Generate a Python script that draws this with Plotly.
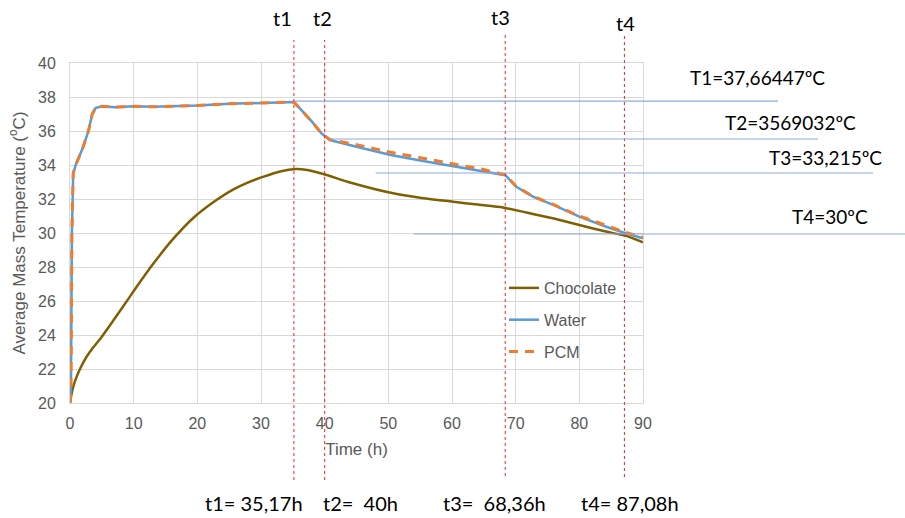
import plotly.graph_objects as go

# ---------------- data ----------------
water_t = [0, 0.15, 0.3, 0.5, 0.9, 2.0, 2.9, 3.5, 4.0, 5.0, 7.0, 10.0, 13.0, 16.0, 20.0, 25.0, 30.0, 35.17,
           36.1, 38.0, 39.5, 40.8, 45.0, 50.2, 55.0, 60.2, 65.0, 68.36, 70.1, 72.7, 75.9, 80.0, 84.0, 87.6, 90.0]
water_T = [20.0, 21.0, 30.0, 33.5, 34.0, 35.0, 36.0, 37.0, 37.35, 37.45, 37.4, 37.45, 37.42, 37.45, 37.5, 37.6, 37.65, 37.7,
           37.33, 36.55, 35.86, 35.47, 35.07, 34.6, 34.27, 33.94, 33.62, 33.4, 32.72, 32.14, 31.65, 30.96, 30.4, 29.94, 29.69]
pcm_T = [20.0, 21.0, 30.0, 33.5, 34.0, 35.0, 36.0, 37.0, 37.35, 37.45, 37.4, 37.45, 37.42, 37.45, 37.5, 37.6, 37.65, 37.7,
         37.33, 36.55, 35.86, 35.5, 35.2, 34.76, 34.43, 34.08, 33.73, 33.42, 32.74, 32.16, 31.68, 31.0, 30.45, 30.0, 29.75]
choc_t = [0, 0.2, 0.5, 1.05, 1.7, 2.6, 3.6, 4.7, 6.8, 8.9, 10.5, 13.1, 16.2, 19.4, 23.0, 25.6, 28.0, 30.3, 33.0, 35.5, 37.0,
          39.8, 44.0, 50.2, 55.0, 60.2, 64.0, 68.0, 72.7, 76.0, 80.0, 84.0, 87.6, 90.0]
choc_T = [20.0, 20.45, 20.95, 21.55, 22.1, 22.72, 23.25, 23.75, 24.85, 25.98, 26.85, 28.2, 29.65, 30.9, 31.94, 32.55, 32.98, 33.3, 33.62, 33.76, 33.72,
          33.47, 32.97, 32.38, 32.08, 31.84, 31.67, 31.5, 31.12, 30.85, 30.47, 30.1, 29.8, 29.45]

t_marks = [35.17, 40.0, 68.36, 87.08]
t_names = ["t1", "t2", "t3", "t4"]
t_bottom = ["t1= 35,17h", "t2=  40h", "t3=  68,36h", "t4= 87,08h"]
T_levels = [37.76, 35.53, 33.53, 29.94]
T_start = [35.17, 40.8, 48.0, 54.0]
T_text = ["T1=37,66447ºC", "T2=3569032ºC", "T3=33,215ºC", "T4=30ºC"]

# ---------------- geometry helpers ----------------
W, H = 905, 518
L, R, T, B = 70, 643, 63, 403
XMAX, YMIN, YMAX = 90, 20, 40


def px_x(px):
    return (px - L) / (R - L)


def px_y(py):
    return (B - py) / (B - T)


fig = go.Figure()
fig.add_trace(go.Scatter(x=choc_t, y=choc_T, mode="lines", name="Chocolate", legendgroup="a",
                         line=dict(color="#7F6000", width=2.5, shape="spline", smoothing=0.5)))
fig.add_trace(go.Scatter(x=water_t, y=water_T, mode="lines", name="Water", legendgroup="b",
                         line=dict(color="#5B9BD5", width=2.5)))
fig.add_trace(go.Scatter(x=water_t, y=pcm_T, mode="lines", name="PCM", legendgroup="c",
                         line=dict(color="#ED7D31", width=3, dash="9px,7px")))

shapes = []
annotations = []
font_lbl = dict(family="Lato", size=20, color="#000000")

top_px = [(282, 18), (322, 18), (500, 17), (625, 23)]
bot_px = [254, 360, 494, 630]
line_top = [40, 40, 33, 35]
line_bot = [480, 480, 476, 477]
for i, tm in enumerate(t_marks):
    shapes.append(dict(type="line", xref="paper", yref="paper",
                       x0=tm / XMAX, x1=tm / XMAX, y0=px_y(line_bot[i]), y1=px_y(line_top[i]),
                       line=dict(color="#FF2020", width=1, dash="3px,3px"), layer="above"))
    annotations.append(dict(xref="paper", yref="paper", x=px_x(top_px[i][0]), y=px_y(top_px[i][1]),
                            text=t_names[i], showarrow=False, font=font_lbl,
                            xanchor="center", yanchor="middle"))
    annotations.append(dict(xref="paper", yref="paper", x=px_x(bot_px[i]), y=px_y(503),
                            text=t_bottom[i], showarrow=False, font=dict(family="Lato", size=20, color="#000000"),
                            xanchor="center", yanchor="middle"))

T_end_px = [778, 818, 873, 905]
T_lbl_px = [(757, 78), (790, 122), (825, 157), (830, 217)]
for i, lv in enumerate(T_levels):
    shapes.append(dict(type="line", xref="paper", yref="paper",
                       x0=T_start[i] / XMAX, x1=px_x(T_end_px[i]),
                       y0=(lv - YMIN) / (YMAX - YMIN), y1=(lv - YMIN) / (YMAX - YMIN),
                       line=dict(color="#8FAADC", width=1.2), layer="above"))
    annotations.append(dict(xref="paper", yref="paper", x=px_x(T_lbl_px[i][0]), y=px_y(T_lbl_px[i][1]),
                            text=T_text[i], showarrow=False, font=dict(family="Lato", size=19, color="#000000"),
                            xanchor="center", yanchor="middle"))

grid = "#D9D9D9"
tick_font = dict(family="Liberation Sans", size=16, color="#595959")
fig.update_layout(
    width=W, height=H,
    margin=dict(l=L, r=W - R, t=T, b=H - B, pad=0),
    paper_bgcolor="white", plot_bgcolor="white",
    showlegend=True,
    legend=dict(x=px_x(504), y=px_y(271), xanchor="left", yanchor="top",
                bgcolor="rgba(0,0,0,0)", font=dict(family="Liberation Sans", size=16, color="#595959"),
                traceorder="grouped", tracegroupgap=8, itemwidth=30),
    xaxis=dict(range=[0, XMAX], dtick=10, tick0=0, showgrid=True, gridcolor=grid, gridwidth=1,
               showline=True, linecolor=grid, linewidth=1, mirror=True, zeroline=False,
               ticks="", tickfont=tick_font, ticklabelstandoff=6,
               title=dict(text="Time (h)", font=dict(family="Liberation Sans", size=17, color="#595959"), standoff=11)),
    yaxis=dict(range=[YMIN, YMAX], dtick=2, tick0=20, showgrid=True, gridcolor=grid, gridwidth=1,
               showline=True, linecolor=grid, linewidth=1, mirror=True, zeroline=False,
               ticks="", tickfont=tick_font, ticklabelstandoff=10,
               title=dict(text="Average Mass Temperature (<sup>o</sup>C)",
                          font=dict(family="Liberation Sans", size=17, color="#595959"), standoff=8)),
    shapes=shapes,
    annotations=annotations,
)

fig.write_html("out.html")
